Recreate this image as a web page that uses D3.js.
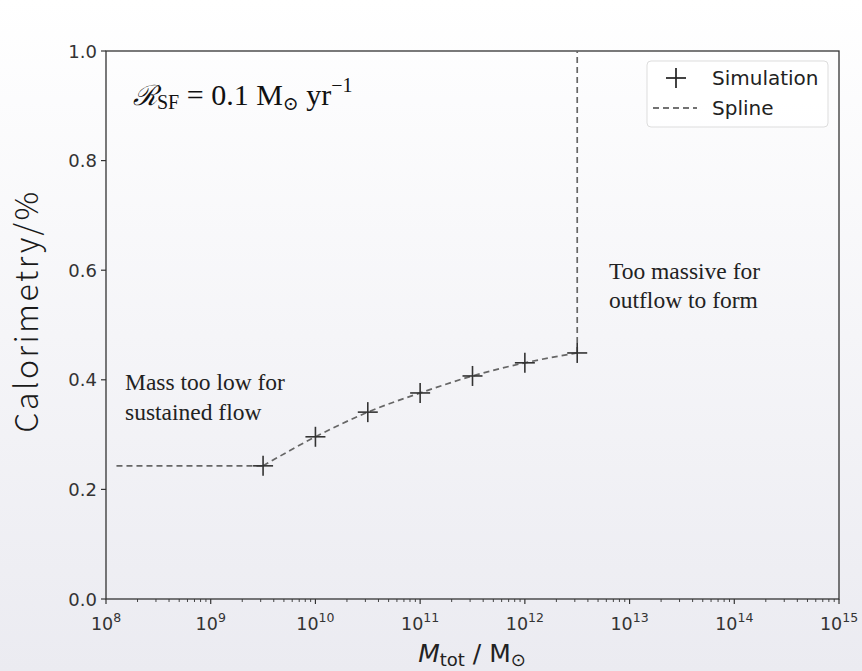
<!DOCTYPE html>
<html><head><meta charset="utf-8">
<script src="https://cdn.jsdelivr.net/npm/d3@7"></script>
<style>
html,body{margin:0;padding:0;}
body{width:862px;height:671px;overflow:hidden;}
</style></head>
<body>
<script>
// ---- data ----
const logMass = [9.5, 10, 10.5, 11, 11.5, 12, 12.5];
const calorimetry = [0.243, 0.296, 0.341, 0.376, 0.407, 0.431, 0.449];
const plateauStartLog = 8.1;      // low-mass constant branch start
const verticalTopValue = 1.0;     // high-mass branch goes to top
const xTickExps = [8, 9, 10, 11, 12, 13, 14, 15];
const yTicks = [0.0, 0.2, 0.4, 0.6, 0.8, 1.0];
const legendLabels = ["Simulation", "Spline"];

const W = 862, H = 671;
const margin = {left: 106, right: 23, top: 51, bottom: 72};

const svg = d3.select("body").append("svg").attr("width", W).attr("height", H);
const defs = svg.append("defs");
const grad = defs.append("linearGradient").attr("id","bg").attr("x1",0).attr("y1",0).attr("x2",0).attr("y2",1);
grad.append("stop").attr("offset","0%").attr("stop-color","#ffffff");
grad.append("stop").attr("offset","100%").attr("stop-color","#ebebf1");
svg.append("rect").attr("width",W).attr("height",H).attr("fill","url(#bg)");

const x = d3.scaleLog().domain([1e8, 1e15]).range([margin.left, W - margin.right]);
const y = d3.scaleLinear().domain([0, 1]).range([H - margin.bottom, margin.top]);

const axisColor = "#333";
const g = svg.append("g");

// frame
g.append("rect").attr("x", x(1e8)).attr("y", y(1)).attr("width", x(1e15)-x(1e8)).attr("height", y(0)-y(1))
  .attr("fill","none").attr("stroke",axisColor).attr("stroke-width",1.3);

// x ticks
const minor = [];
for (let e = 8; e < 15; e++) for (let k = 2; k <= 9; k++) minor.push(k * Math.pow(10, e));
g.selectAll(".xminor").data(minor).join("line")
  .attr("x1", d=>x(d)).attr("x2", d=>x(d)).attr("y1", y(0)).attr("y2", y(0)+3)
  .attr("stroke", axisColor).attr("stroke-width", 0.9);
g.selectAll(".xmajor").data(xTickExps).join("line")
  .attr("x1", d=>x(Math.pow(10,d))).attr("x2", d=>x(Math.pow(10,d))).attr("y1", y(0)).attr("y2", y(0)+5)
  .attr("stroke", axisColor).attr("stroke-width", 1.2);
const xl = g.selectAll(".xlab").data(xTickExps).join("text")
  .attr("x", d=>x(Math.pow(10,d))).attr("y", y(0)+31)
  .attr("text-anchor","middle").attr("font-family","DejaVu Sans").attr("font-size",17.5).attr("fill","#333");
xl.append("tspan").text("10");
xl.append("tspan").attr("dy",-8).attr("font-size",12.5).text(d=>d);

// y ticks
g.selectAll(".ytick").data(yTicks).join("line")
  .attr("x1", x(1e8)-5).attr("x2", x(1e8)).attr("y1", d=>y(d)).attr("y2", d=>y(d))
  .attr("stroke", axisColor).attr("stroke-width", 1.2);
g.selectAll(".ylab").data(yTicks).join("text")
  .attr("x", x(1e8)-9).attr("y", d=>y(d)+6.5)
  .attr("text-anchor","end").attr("font-family","DejaVu Sans").attr("font-size",18).attr("fill","#333")
  .text(d=>d.toFixed(1));

// axis labels
const xlab = svg.append("text").attr("x", 472).attr("y", 662).attr("text-anchor","middle")
  .attr("font-family","DejaVu Sans").attr("font-size",25).attr("fill","#222");
xlab.append("tspan").attr("font-style","italic").text("M");
xlab.append("tspan").attr("font-size",18).attr("dy",4).text("tot");
xlab.append("tspan").attr("dy",-4).text(" / M");
xlab.append("tspan").attr("font-size",18).attr("dy",4).text("⊙");

svg.append("text").attr("transform","translate(38,311) rotate(-90)").attr("text-anchor","middle")
  .attr("font-family","Noto Sans CJK JP").attr("font-weight",300).attr("font-size",32)
  .attr("letter-spacing","2.5px").attr("fill","#1a1a1a")
  .text("Calorimetry/%");

// spline (dashed)
const pts = logMass.map((m,i)=>[Math.pow(10,m), calorimetry[i]]);
const lineGen = d3.line().x(d=>x(d[0])).y(d=>y(d[1]));
const dashStyle = sel => sel.attr("fill","none").attr("stroke","#666").attr("stroke-width",1.7).attr("stroke-dasharray","6,4");
g.append("path").datum([[Math.pow(10,plateauStartLog), calorimetry[0]], pts[0]]).attr("d", lineGen).call(dashStyle);
g.append("path").datum(pts).attr("d", d3.line().x(d=>x(d[0])).y(d=>y(d[1])).curve(d3.curveMonotoneX)).call(dashStyle);
g.append("path").datum([pts[pts.length-1], [pts[pts.length-1][0], verticalTopValue]]).attr("d", lineGen).call(dashStyle);

// simulation crosses
const cs = 10;
const cross = g.selectAll(".pt").data(pts).join("g").attr("transform", d=>`translate(${x(d[0])},${y(d[1])})`);
cross.append("line").attr("x1",-cs).attr("x2",cs).attr("stroke","#333").attr("stroke-width",1.6);
cross.append("line").attr("y1",-cs).attr("y2",cs).attr("stroke","#333").attr("stroke-width",1.6);

// annotations
const serif = "Liberation Serif";
const a1 = svg.append("text").attr("font-family",serif).attr("font-size",23.5).attr("fill","#222");
a1.append("tspan").attr("x",125).attr("y",390).text("Mass too low for");
a1.append("tspan").attr("x",125).attr("y",420).text("sustained flow");
const a2 = svg.append("text").attr("font-family",serif).attr("font-size",23.5).attr("fill","#222");
a2.append("tspan").attr("x",609).attr("y",279).text("Too massive for");
a2.append("tspan").attr("x",609).attr("y",308).text("outflow to form");

// rate annotation
const t = svg.append("text").attr("x",133).attr("y",105).attr("font-family",serif).attr("font-size",30).attr("fill","#111");
t.append("tspan").attr("font-family","DejaVu Serif").attr("font-style","italic").attr("font-size",28).text("ℛ");
t.append("tspan").attr("font-size",20).attr("dy",4).text("SF");
t.append("tspan").attr("dy",-4).text(" = 0.1  M");
t.append("tspan").attr("font-size",19).attr("font-family","DejaVu Serif").attr("dy",5).text("⊙");
t.append("tspan").attr("dy",-5).text(" yr");
t.append("tspan").attr("dy",-13).attr("font-size",20).text("−1");

// legend
const lg = svg.append("g");
lg.append("rect").attr("x",647).attr("y",61).attr("width",181).attr("height",66).attr("rx",4)
  .attr("fill","#fff").attr("fill-opacity",0.8).attr("stroke","#ddd").attr("stroke-width",1);
lg.append("line").attr("x1",666).attr("x2",686).attr("y1",78).attr("y2",78).attr("stroke","#222").attr("stroke-width",1.7);
lg.append("line").attr("x1",676).attr("x2",676).attr("y1",68).attr("y2",88).attr("stroke","#222").attr("stroke-width",1.7);
lg.append("line").attr("x1",653).attr("x2",697).attr("y1",108).attr("y2",108).call(dashStyle).attr("stroke","#444");
lg.selectAll(".lt").data(legendLabels).join("text").attr("x",712).attr("y",(d,i)=>85+i*30)
  .attr("font-family","DejaVu Sans").attr("font-size",20).attr("fill","#222").text(d=>d);
</script>
</body></html>
